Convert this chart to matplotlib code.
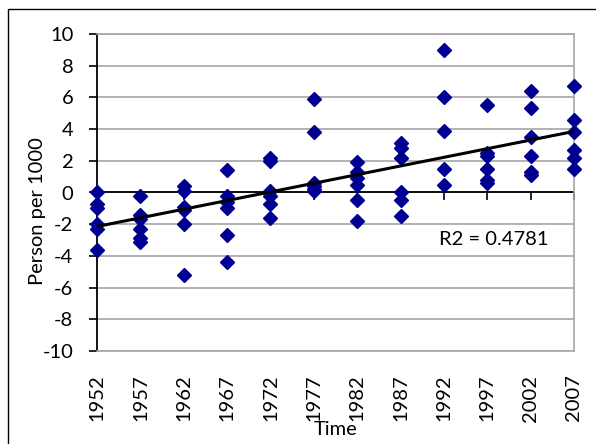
import numpy as np
import matplotlib
matplotlib.use("Agg")
import matplotlib.pyplot as plt
from matplotlib.patches import Rectangle

# ---------------------------------------------------------------- data
years = [1952, 1957, 1962, 1967, 1972, 1977, 1982, 1987, 1992, 1997, 2002, 2007]
values = [
    [0.0, -0.7, -1.0, -2.0, -2.3, -3.6],     # 1952
    [-0.2, -1.4, -1.7, -2.3, -2.9, -3.1],    # 1957
    [0.4, 0.1, -0.9, -1.1, -2.0, -5.2],      # 1962
    [1.4, -0.2, -0.6, -0.95, -2.7, -4.4],    # 1967
    [2.2, 2.0, 0.1, -0.2, -0.7, -1.6],       # 1972
    [5.9, 3.8, 0.6, 0.4, 0.2, 0.1],          # 1977
    [1.9, 1.3, 0.9, 0.5, -0.5, -1.8],        # 1982
    [3.1, 2.8, 2.2, 0.0, -0.5, -1.5],        # 1987
    [9.0, 6.0, 3.9, 1.5, 0.5],               # 1992
    [5.5, 2.5, 2.3, 1.5, 0.8, 0.6],          # 1997
    [6.4, 5.3, 3.5, 2.3, 1.3, 1.1],          # 2002
    [6.7, 4.6, 3.8, 2.7, 2.2, 1.5],          # 2007
]
r2_text = "R2 = 0.4781"

xs = np.concatenate([[y] * len(v) for y, v in zip(years, values)])
ys = np.concatenate(values)
slope, icpt = np.polyfit(xs, ys, 1)
yr = np.array(years, dtype=float)

plt.rcParams["font.family"] = ["Lato", "DejaVu Sans"]
plt.rcParams["axes.unicode_minus"] = False

W, H = 596, 444
FS = 14.5
fig = plt.figure(figsize=(W / 100, H / 100), dpi=100)
ax = fig.add_axes([97 / W, 1 - 351 / H, (574 - 97) / W, (351 - 34) / H])

grid_c = "#a6a6a6"
ax.set_xlim(1952, 2007)
ax.set_ylim(-10, 10)
ax.set_yticks(np.arange(-10, 11, 2))
ax.set_xticks(years)
ax.set_xticklabels([str(y) for y in years], rotation=90, fontsize=FS)
ax.tick_params(axis="y", direction="out", length=6, width=1.2, pad=11, labelsize=FS)
ax.tick_params(axis="x", length=0, pad=17)
ax.yaxis.grid(True, color=grid_c, lw=1.2)
ax.set_axisbelow(True)
for s in ["top", "right", "bottom"]:
    ax.spines[s].set_color(grid_c)
    ax.spines[s].set_linewidth(1.2)
ax.spines["left"].set_color("black")
ax.spines["left"].set_linewidth(1.3)

# category axis crossing at zero
ax.axhline(0, color="black", lw=1.3, zorder=2)
ax.plot(yr, np.zeros_like(yr), ls="none", marker=3, ms=6, mew=1.2, color="black",
        clip_on=False, zorder=2)

ax.plot(xs, ys, ls="none", marker="D", ms=7.5, color="#000090", zorder=3, clip_on=False)
ax.plot(yr, slope * yr + icpt, color="black", lw=2.2, zorder=4)

ax.text(1997.7, -2.95, r2_text, ha="center", va="center", fontsize=FS)
ax.set_ylabel("Person per 1000", fontsize=FS, va="center")
ax.yaxis.set_label_coords(-0.124, 0.44)
ax.set_xlabel("Time", fontsize=FS, va="center")
ax.xaxis.set_label_coords(0.5, -0.249)

fig.patches.append(Rectangle((8 / W, -0.1), 1.2, 1 - 9 / H + 0.1, transform=fig.transFigure,
                             fill=False, ec="black", lw=1))

fig.savefig("out.png", dpi=100)
